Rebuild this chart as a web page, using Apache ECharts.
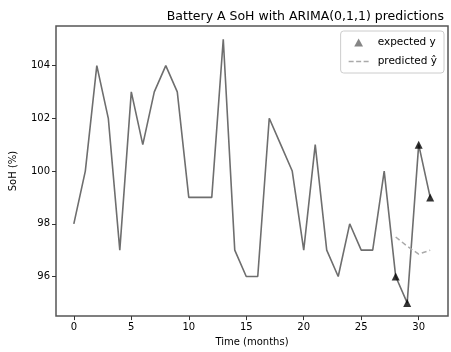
<!DOCTYPE html>
<html>
<head>
<meta charset="utf-8">
<script src="https://cdn.jsdelivr.net/npm/echarts@6/dist/echarts.min.js"></script>
<style>
  body{ margin:0; background:#fff; }
  #main{ width:451px; height:352px; }
</style>
</head>
<body>
<div id="main"></div>
<script>
// months 0..31
var months = [];
for (var m = 0; m <= 31; m++) months.push(m);
var soh = [98,100,104,102,97,103,101,103,104,103,99,99,99,105,97,96,96,102,101,100,97,101,97,96,98,97,97,100,96,95,101,99];
var testMonths = [28,29,30,31];
var expectedY = [96,95,101,99];
var predictedY = [97.5,97.15,96.85,97.0];
var xTicks = [0,5,10,15,20,25,30];
var yTicks = [96,98,100,102,104];

function pairs(xs, ys){
  var out = [];
  for (var i = 0; i < xs.length; i++) out.push([xs[i], ys[i]]);
  return out;
}

var font = 'DejaVu Sans';
var myChart = echarts.init(document.getElementById('main'));
var opt = {
  animation: false,
  textStyle: { fontFamily: font },
  title: {
    text: 'Battery A SoH with ARIMA(0,1,1) predictions',
    right: 2,
    top: 5,
    textStyle: { fontFamily: font, fontSize: 12.5, fontWeight: 'normal', color: '#000' }
  },
  legend: {
    data: [
      { name: 'expected y', icon: 'path://M0,10L5.5,0L11,10Z', itemStyle: { color: '#666' } },
      { name: 'predicted \u0177', icon: 'path://M0,0h5v1.5h-5zM7.5,0h5v1.5h-5zM15,0h5v1.5h-5z', itemStyle: { color: '#aaa' } }
    ],
    orient: 'vertical',
    right: 7,
    top: 31,
    itemWidth: 20,
    itemHeight: 8,
    itemGap: 8,
    padding: [6, 7, 6, 8],
    borderColor: '#ccc',
    borderWidth: 1,
    borderRadius: 3,
    textStyle: { fontFamily: font, fontSize: 10.5, color: '#000', padding: [0, 0, 0, 4] }
  },
  grid: {
    left: 53, right: 3, top: 26, bottom: 32,
    show: true, borderColor: '#555', borderWidth: 1.5
  },
  xAxis: {
    type: 'value',
    min: -1.55, max: 32.55,
    name: 'Time (months)',
    nameLocation: 'middle',
    nameGap: 20,
    nameTextStyle: { fontFamily: font, fontSize: 10, color: '#000' },
    splitLine: { show: false },
    axisLine: { show: false, onZero: false },
    axisTick: { show: true, length: 4, customValues: xTicks, lineStyle: { color: '#333' } },
    axisLabel: { customValues: xTicks, fontSize: 10, color: '#000', margin: 6 }
  },
  yAxis: {
    type: 'value',
    min: 94.5, max: 105.5,
    name: 'SoH (%)',
    nameLocation: 'middle',
    nameGap: 38,
    nameTextStyle: { fontFamily: font, fontSize: 10, color: '#000' },
    splitLine: { show: false },
    axisLine: { show: false, onZero: false },
    axisTick: { show: true, length: 4, customValues: yTicks, lineStyle: { color: '#333' } },
    axisLabel: { customValues: yTicks, fontSize: 10, color: '#000', margin: 6 }
  },
  series: [
    {
      name: 'SoH',
      type: 'line',
      data: pairs(months, soh),
      symbol: 'none',
      lineStyle: { color: '#6e6e6e', width: 1.6 },
      z: 2
    },
    {
      name: 'predicted \u0177',
      type: 'line',
      data: pairs(testMonths, predictedY),
      symbol: 'none',
      lineStyle: { color: '#aaa', width: 1.5, type: [5, 3] },
      itemStyle: { color: '#aaa' },
      z: 3
    },
    {
      name: 'expected y',
      type: 'scatter',
      data: pairs(testMonths, expectedY),
      symbol: 'triangle',
      symbolSize: 8,
      itemStyle: { color: '#000' },
      z: 4
    }
  ]
};
myChart.setOption(opt);
</script>
</body>
</html>
